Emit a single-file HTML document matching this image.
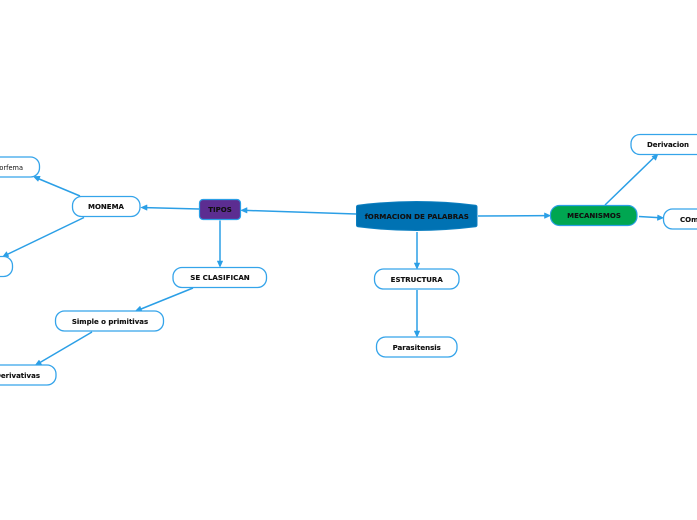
<!DOCTYPE html>
<html><head><meta charset="utf-8">
<style>
html,body{margin:0;padding:0;background:#fff;width:697px;height:520px;overflow:hidden}
svg{display:block}
text{font-family:"DejaVu Sans",sans-serif;font-size:7px;font-weight:bold;fill:#111;stroke:#111;stroke-width:.12}
.n{fill:#fff;stroke:#35a4ea;stroke-width:1.3}
.l{stroke:#2b9fe6;stroke-width:1.5;fill:none}
.a{fill:#2b9fe6;stroke:#2b9fe6;stroke-width:.6;stroke-linejoin:round}
</style></head><body>
<svg width="697" height="520" viewBox="0 0 697 520" xmlns="http://www.w3.org/2000/svg">
<!-- connectors -->
<g class="l">
<line x1="356" y1="214" x2="246" y2="210.4"/>
<line x1="199" y1="209" x2="146" y2="207.6"/>
<line x1="80" y1="196" x2="38" y2="178.5"/>
<line x1="84" y1="217.5" x2="7" y2="254.5"/>
<line x1="220" y1="220.5" x2="220" y2="262"/>
<line x1="193" y1="288" x2="141" y2="309"/>
<line x1="92" y1="332" x2="40" y2="362.5"/>
<line x1="417" y1="232" x2="417" y2="264"/>
<line x1="417" y1="290" x2="417" y2="332"/>
<line x1="478" y1="216" x2="545" y2="215.6"/>
<line x1="605" y1="205" x2="654" y2="157.5"/>
<line x1="639" y1="216.5" x2="658" y2="217.6"/>
</g>
<!-- arrowheads -->
<g class="a">
<polygon points="241,210.3 247,207.6 247,213"/>
<polygon points="141,207.5 147,204.9 147,210.2"/>
<polygon points="33.5,176.5 40.2,176.3 38,181.2"/>
<polygon points="2.5,257 6.5,251.8 8.8,256.5"/>
<polygon points="220,267 217.3,261 222.7,261"/>
<polygon points="135.5,311 140,306.3 142,311.2"/>
<polygon points="35,365.5 39,360.2 41.7,364.7"/>
<polygon points="417,269 414.3,263 419.7,263"/>
<polygon points="417,337 414.3,331 419.7,331"/>
<polygon points="550.5,215.6 544.5,218.3 544.5,212.9"/>
<polygon points="658,154 655.7,160.2 652,156.4"/>
<polygon points="663.5,217.9 657.4,220.3 657.7,215"/>
</g>
<!-- central -->
<path d="M356.5 207 Q356.5 205.5 358 205.2 Q416 197.8 475.5 205.2 Q477 205.5 477 207 L477 225 Q477 226.5 475.5 226.8 Q416 234.2 358 226.8 Q356.5 226.5 356.5 225 Z" fill="#0072b3" stroke="#0d7fc0" stroke-width="1"/>
<text x="416.8" y="219" text-anchor="middle" style="font-size:7.1px">fORMACION DE PALABRAS</text>
<!-- TIPOS -->
<rect x="199.5" y="199.5" width="41" height="20" rx="3.5" fill="#5c2d91" stroke="#2b9fe6" stroke-width="1.2"/>
<text x="220" y="212.2" text-anchor="middle">TIPOS</text>
<!-- MECANISMOS -->
<rect x="550.5" y="205.5" width="86.5" height="20" rx="9" fill="#00a651" stroke="#2b9fe6" stroke-width="1.2"/>
<text x="594" y="218" text-anchor="middle">MECANISMOS</text>
<!-- white nodes -->
<rect class="n" x="72.5" y="196.5" width="67.5" height="20" rx="9"/>
<text x="106" y="209" text-anchor="middle">MONEMA</text>
<rect class="n" x="-40" y="157" width="79.5" height="20" rx="9"/>
<text x="23" y="170.2" text-anchor="end" style="font-weight:normal;font-size:6.6px;stroke:none">Morfema</text>
<rect class="n" x="-60" y="256.5" width="72.5" height="20" rx="9"/>
<rect class="n" x="173" y="267.5" width="93.5" height="20" rx="9"/>
<text x="220" y="280" text-anchor="middle" style="font-size:7.1px">SE CLASIFICAN</text>
<rect class="n" x="55.5" y="311" width="108" height="20" rx="9"/>
<text x="110" y="324" text-anchor="middle">Simple o primitivas</text>
<rect class="n" x="-40" y="365" width="96" height="20" rx="9"/>
<text x="40" y="378" text-anchor="end">Derivativas</text>
<rect class="n" x="374.5" y="269" width="84.5" height="20" rx="9"/>
<text x="416.7" y="282" text-anchor="middle">ESTRUCTURA</text>
<rect class="n" x="376.5" y="337" width="80.5" height="20" rx="9"/>
<text x="416.7" y="350" text-anchor="middle">Parasitensis</text>
<rect class="n" x="631" y="134.5" width="75" height="20" rx="9"/>
<text x="668" y="147.2" text-anchor="middle">Derivacion</text>
<rect class="n" x="663.5" y="209" width="75" height="20" rx="9"/>
<text x="680" y="222">COmposicion</text>
</svg>
</body></html>
